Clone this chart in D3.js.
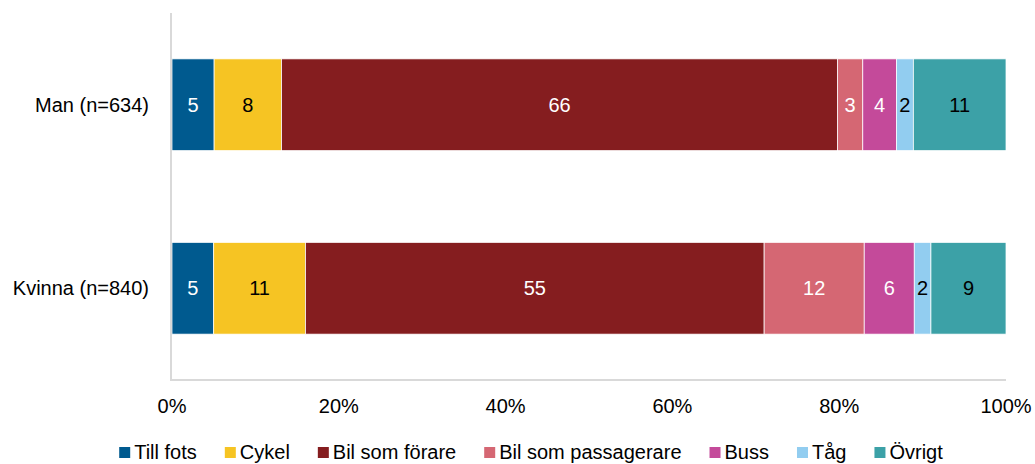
<!DOCTYPE html>
<html lang="sv">
<head>
  <meta charset="UTF-8">
  <title>Färdsätt per kön</title>
  <script src="https://d3js.org/d3.v7.min.js"></script>
  <style>
    body { margin: 0; background: #fff; }
    svg { font-family: "Liberation Sans", Arial, sans-serif; }
    .axis-line { stroke: #d9d9d9; stroke-width: 2; }
  </style>
</head>
<body>
<svg id="chart" width="1035" height="464"></svg>
<script>
  // Data
  const categories = ["Man (n=634)", "Kvinna (n=840)"];
  const modes = ["Till fots", "Cykel", "Bil som förare", "Bil som passagerare", "Buss", "Tåg", "Övrigt"];
  const manValues = [5, 8, 66, 3, 4, 2, 11];
  const kvinnaValues = [5, 11, 55, 12, 6, 2, 9];
  const tickValues = [0, 20, 40, 60, 80, 100];

  const colors = ["#005a8f", "#f6c423", "#851d1f", "#d56773", "#c44a9a", "#92cdf0", "#3ca1a7"];
  const labelColors = ["#fff", "#000", "#fff", "#fff", "#fff", "#000", "#000"];

  const rows = [manValues, kvinnaValues];

  const svg = d3.select("#chart");
  const margin = { left: 172, right: 29, top: 13, bottom: 84 };
  const width = 1035, height = 464;
  const fontSize = "20px";

  const x = d3.scaleLinear().domain([0, 100]).range([margin.left, width - margin.right]);
  const y = d3.scaleBand().domain(categories)
    .range([margin.top, height - margin.bottom])
    .paddingInner(0.5).paddingOuter(0.25);

  // stacked segments (100% stacked, normalised per row)
  rows.forEach((vals, i) => {
    const total = d3.sum(vals);
    let acc = 0;
    const segs = vals.map((v, j) => {
      const s = { x0: acc / total * 100, x1: (acc + v) / total * 100, v, j };
      acc += v;
      return s;
    });
    const g = svg.append("g");
    g.selectAll("rect").data(segs).enter().append("rect")
      .attr("x", d => x(d.x0))
      .attr("y", y(categories[i]))
      .attr("width", d => x(d.x1) - x(d.x0))
      .attr("height", y.bandwidth())
      .attr("fill", d => colors[d.j])
      .attr("stroke", "#fff")
      .attr("stroke-width", 0.75);
    g.selectAll("text").data(segs).enter().append("text")
      .attr("x", d => (x(d.x0) + x(d.x1)) / 2)
      .attr("y", y(categories[i]) + y.bandwidth() / 2)
      .attr("dy", "0.36em")
      .attr("text-anchor", "middle")
      .attr("font-size", fontSize)
      .attr("fill", d => labelColors[d.j])
      .text(d => d.v);
  });

  // axis lines
  svg.append("line").attr("class", "axis-line")
    .attr("x1", x(0) - 1).attr("x2", x(0) - 1)
    .attr("y1", margin.top).attr("y2", height - margin.bottom);
  svg.append("line").attr("class", "axis-line")
    .attr("x1", x(0) - 2).attr("x2", x(100))
    .attr("y1", height - margin.bottom).attr("y2", height - margin.bottom);

  // category labels
  svg.append("g").selectAll("text").data(categories).enter().append("text")
    .attr("x", x(0) - 23)
    .attr("y", d => y(d) + y.bandwidth() / 2)
    .attr("dy", "0.36em")
    .attr("text-anchor", "end")
    .attr("font-size", fontSize)
    .attr("fill", "#000")
    .text(d => d);

  // tick labels
  svg.append("g").selectAll("text").data(tickValues).enter().append("text")
    .attr("x", d => x(d))
    .attr("y", 406)
    .attr("dy", "0.36em")
    .attr("text-anchor", "middle")
    .attr("font-size", fontSize)
    .attr("fill", "#000")
    .text(d => d + "%");

  // legend
  const legend = svg.append("g");
  const gap = 28;
  let lx = 0;
  modes.forEach((m, j) => {
    const item = legend.append("g").attr("transform", `translate(${lx},0)`);
    item.append("rect").attr("x", 0).attr("y", -5).attr("width", 11).attr("height", 11).attr("fill", colors[j]);
    const t = item.append("text").attr("x", 15).attr("dy", "0.36em")
      .attr("font-size", fontSize).attr("fill", "#000").text(m);
    lx += 15 + t.node().getComputedTextLength() + gap;
  });
  const legendWidth = lx - gap;
  legend.attr("transform", `translate(${531 - legendWidth / 2},452)`);
</script>
</body>
</html>
